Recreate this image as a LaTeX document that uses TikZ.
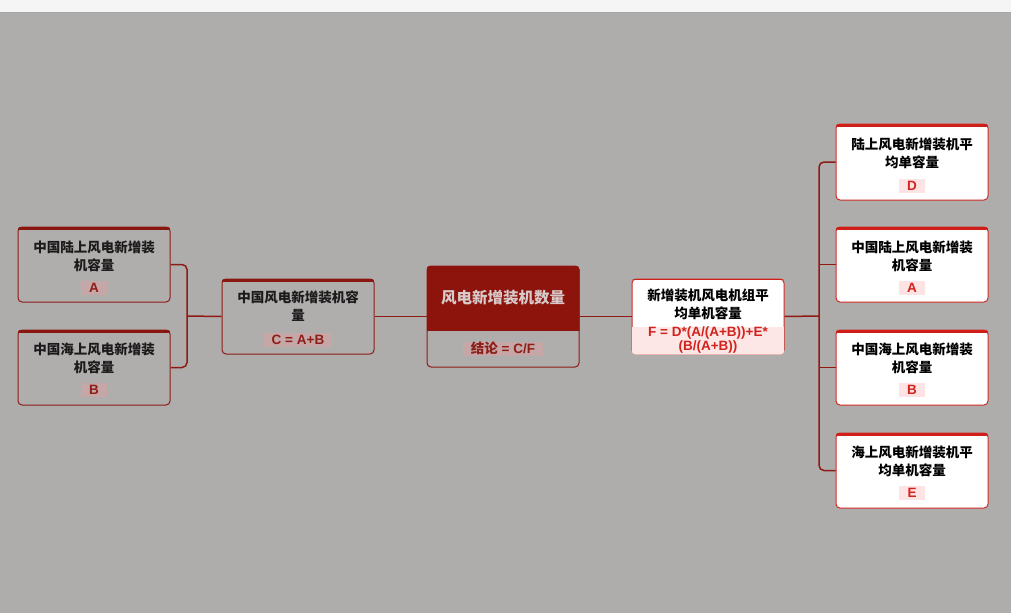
\documentclass[tikz,border=0pt]{standalone}
\usepackage{fontspec}
\newfontfamily\cjk{Noto Sans CJK SC}
\newfontfamily\lat{Liberation Sans}
\definecolor{bg}{HTML}{AEADAC}
\definecolor{topgray}{HTML}{F5F5F5}
\definecolor{dimred}{HTML}{8E1B15}
\definecolor{dimband}{HTML}{8A1610}
\definecolor{dimfill}{HTML}{AFAEAD}
\definecolor{dimlabbg}{HTML}{C4A7A6}
\definecolor{dimlabtx}{HTML}{8E1E18}
\definecolor{dimtxt}{HTML}{1C1A1A}
\definecolor{ctrred}{HTML}{8D130D}
\definecolor{ctrtxt}{HTML}{D8CACA}
\definecolor{litred}{HTML}{CC2A22}
\definecolor{litband}{HTML}{CF1F18}
\definecolor{litlabbg}{HTML}{FDE3E3}
\definecolor{litlabtx}{HTML}{D2231C}
\definecolor{pinkfill}{HTML}{FDE6E6}
\definecolor{conn}{HTML}{8F1A14}
\newcommand\topband[2]{\begin{scope}\clip[rounded corners=4pt] (#1.north west) rectangle (#1.south east);\fill[#2] (#1.north west) rectangle ([yshift=-3pt]#1.north east);\end{scope}}
\begin{document}
\begin{tikzpicture}[x=1pt,y=-1pt,
  box/.style={rectangle, rounded corners=4pt, minimum width=152pt, minimum height=75pt, inner sep=0pt, line width=1pt},
  dimbox/.style={box, draw=dimred, fill=dimfill},
  litbox/.style={box, draw=litred, fill=white},
  ttl/.style={font=\cjk\bfseries\fontsize{13.5}{18}\selectfont, align=center, inner sep=0pt},
  dimttl/.style={ttl, text=dimtxt},
  litttl/.style={ttl, text=black},
  lab/.style={font=\lat\bfseries\fontsize{13.5}{14}\selectfont, inner xsep=8pt, inner ysep=0pt, minimum width=26pt, minimum height=14pt},
  dimlab/.style={lab, fill=dimlabbg, text=dimlabtx},
  litlab/.style={lab, fill=litlabbg, text=litlabtx},
  link/.style={draw=conn, line width=1.5pt}
]
\useasboundingbox (0,0) rectangle (1011,613);
\fill[bg] (0,0) rectangle (1011,613);
\fill[topgray] (0,0) rectangle (1011,12);
\draw[black!35, line width=0.8pt] (0,12.4) -- (1011,12.4);

% boxes
\node[dimbox] (lA) at (94,264.5) {};
\node[dimbox] (lB) at (94,367.5) {};
\node[dimbox] (C) at (298,316.5) {};
\node[dimbox, minimum height=101pt] (ctr) at (503,316.5) {};
\node[litbox] (F) at (708,316.5) {};
\node[litbox, minimum height=76pt] (rD) at (912,162) {};
\node[litbox] (rA) at (912,264.5) {};
\node[litbox] (rB) at (912,367.5) {};
\node[litbox] (rE) at (912,470.5) {};

\topband{lA}{dimband}
\topband{lB}{dimband}
\topband{C}{dimband}
\topband{rD}{litband}
\topband{rA}{litband}
\topband{rB}{litband}
\topband{rE}{litband}
\begin{scope}
\clip[rounded corners=4pt] (ctr.north west) rectangle (ctr.south east);
\fill[ctrred] (ctr.north west) rectangle (ctr.east |- 0,331);
\end{scope}
\begin{scope}
\clip[rounded corners=4pt] (F.north west) rectangle (F.south east);
\fill[pinkfill] (F.west |- 0,327) rectangle (F.south east);
\fill[litband] (F.north west) rectangle ([yshift=-1.5pt]F.north east);
\end{scope}

% connectors
\coordinate (jL) at (187,316);
\coordinate (jR) at (819,316);
\draw[link, rounded corners=5pt] (lA.east) -| (jL) |- (lB.east);
\draw[link] (jL) -- (C.west);
\draw[link] (C.east) -- (ctr.west);
\draw[link] (ctr.east) -- (F.west);
\draw[link] (F.east) -- (jR);
\draw[link, rounded corners=5pt] (rD.west) -| (jR) |- (rE.west);
\draw[link] (jR |- rA.west) -- (rA.west);
\draw[link] (jR |- rB.west) -- (rB.west);

% texts
\node[dimttl] (lAt) at (94,256) {中国陆上风电新增装\\机容量};
\node[dimlab] (lAl) at (94,288) {A};
\node[dimttl] (lBt) at (94,358.5) {中国海上风电新增装\\机容量};
\node[dimlab] (lBl) at (94,390) {B};
\node[dimttl] (Ct) at (298,306.5) {中国风电新增装机容\\量};
\node[dimlab] (Cl) at (298,339.5) {C = A+B};
\node[ttl, text=ctrtxt, font=\cjk\bfseries\fontsize{15.5}{18}\selectfont] (ctrt) at (503,298) {风电新增装机数量};
\node[dimlab] (ctrl) at (503,348.5) {{\cjk 结论} = C/F};
\node[litttl] (Ft) at (708,304.5) {新增装机风电机组平\\均单机容量};
\node[font=\lat\bfseries\fontsize{13.5}{14}\selectfont, text=litlabtx, align=center, inner sep=0pt] (Ff) at (708,340) {F = D*(A/(A+B))+E*\\(B/(A+B))};
\node[litttl] (rDt) at (912,153.5) {陆上风电新增装机平\\均单容量};
\node[litlab] (rDl) at (912,186) {D};
\node[litttl] (rAt) at (912,256) {中国陆上风电新增装\\机容量};
\node[litlab] (rAl) at (912,288) {A};
\node[litttl] (rBt) at (912,358.5) {中国海上风电新增装\\机容量};
\node[litlab] (rBl) at (912,390) {B};
\node[litttl] (rEt) at (912,461.5) {海上风电新增装机平\\均单机容量};
\node[litlab] (rEl) at (912,493) {E};
\end{tikzpicture}
\end{document}
